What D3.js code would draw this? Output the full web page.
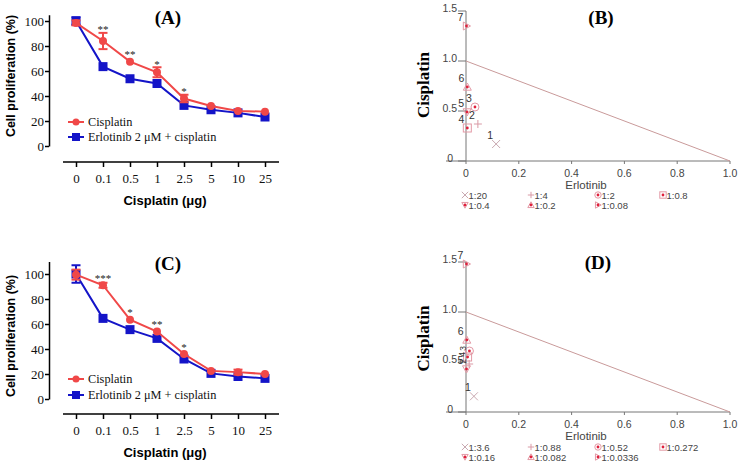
<!DOCTYPE html>
<html>
<head>
<meta charset="utf-8">
<script src="https://cdn.jsdelivr.net/npm/d3@7/dist/d3.min.js"></script>
<style>
  html, body { margin: 0; padding: 0; background: #fff; }
  svg { display: block; }
</style>
</head>
<body>
<svg id="chart" width="742" height="465"></svg>
<script>
// ---------------- DATA ----------------
const categories = ["0", "0.1", "0.5", "1", "2.5", "5", "10", "25"];
const yTicks = [0, 20, 40, 60, 80, 100];

// Panel A
const A_cisplatin = [98.5, 84, 67.5, 59, 38, 32, 28, 27.5];
const A_cisplatinErr = [2, 6.5, 1, 4, 3, 1, 1, 1];
const A_combo = [100, 63.5, 53.8, 50, 32.5, 29, 26.5, 23.2];
const A_comboErr = [3, 1, 1, 1, 1, 1, 1, 1];
const A_stars = ["", "**", "**", "*", "*", "", "", ""];

// Panel C
const C_cisplatin = [99.5, 91, 63.5, 54, 36, 22.5, 21.5, 20];
const C_cisplatinErr = [4, 2, 1, 1.5, 1, 1, 2, 1];
const C_combo = [100, 64.5, 55.5, 48.5, 32, 20.5, 18, 16.5];
const C_comboErr = [7, 1, 1, 1, 1, 1, 1, 1];
const C_stars = ["", "***", "*", "**", "*", "", "", ""];

const seriesNames = ["Cisplatin", "Erlotinib 2 \u03bcM + cisplatin"];

// Isobolograms
const isoXTicks = [0, 0.2, 0.4, 0.6, 0.8, 1.0];
const isoYTicks = [0, 0.5, 1.0, 1.5];
const pointIds = ["1", "2", "3", "4", "5", "6", "7"];
const markerTypes = ["x", "plus", "circle", "square", "triDown", "triUp", "triRight"];

const B_ratios = ["1:20", "1:4", "1:2", "1:0.8", "1:0.4", "1:0.2", "1:0.08"];
const B_erlotinib = [0.114, 0.045, 0.034, 0.005, 0.004, 0.005, 0.002];
const B_cisplatin = [0.17, 0.37, 0.54, 0.33, 0.49, 0.74, 1.35];

const D_ratios = ["1:3.6", "1:0.88", "1:0.52", "1:0.272", "1:0.16", "1:0.082", "1:0.0336"];
const D_erlotinib = [0.03, 0.012, 0.013, 0.006, 0.002, 0.003, 0.002];
const D_cisplatin = [0.157, 0.48, 0.61, 0.55, 0.43, 0.72, 1.48];

// ---------------- DRAWING ----------------
const svg = d3.select("#chart");
svg.append("rect").attr("width", 742).attr("height", 465).attr("fill", "#fff");

const RED = "#f04848";
const BLUE = "#1414c8";
const SERIF = "'Liberation Serif', 'Times New Roman', serif";
const SANS = "'Liberation Sans', Arial, sans-serif";

function linePanel(o) {
  const g = svg.append("g");
  const x = d3.scalePoint().domain(categories).range([76, 265]);
  const y = d3.scaleLinear().domain([0, o.yMax]).range([o.yZero, o.yZero - o.yMax * 1.25]);

  const ya = g.append("g").attr("transform", "translate(49,0)")
    .call(d3.axisLeft(y).tickValues(yTicks).tickSize(4).tickSizeOuter(0).tickPadding(1));
  ya.select(".domain").attr("stroke", "#000").attr("stroke-width", 1.5);
  ya.selectAll(".tick line").attr("stroke", "#000").attr("stroke-width", 1.5);
  ya.selectAll(".tick text").attr("font-family", SERIF).attr("font-size", 13).attr("fill", "#111");

  const xa = g.append("g").attr("transform", `translate(0,${o.xAxisY})`)
    .call(d3.axisBottom(x).tickSize(5).tickSizeOuter(0).tickPadding(7));
  xa.select(".domain").attr("d", `M63,0H279`).attr("stroke", "#000").attr("stroke-width", 1.5);
  xa.selectAll(".tick line").attr("stroke", "#000").attr("stroke-width", 1.5);
  xa.selectAll(".tick text").attr("font-family", SERIF).attr("font-size", 13).attr("fill", "#111");

  g.append("text").attr("x", 168).attr("y", o.titleY).attr("text-anchor", "middle")
    .attr("font-family", SERIF).attr("font-weight", "bold").attr("font-size", 19).text(o.title);
  g.append("text").attr("x", 165).attr("y", o.xTitleY).attr("text-anchor", "middle")
    .attr("font-family", SANS).attr("font-weight", "bold").attr("font-size", 13).text("Cisplatin (\u03bcg)");
  g.append("text").attr("transform", `translate(14.5,${o.yTitleCY}) rotate(-90)`).attr("text-anchor", "middle")
    .attr("font-family", SANS).attr("font-weight", "bold").attr("font-size", 12.5).text("Cell proliferation (%)");

  const line = d3.line().x((d, i) => x(categories[i])).y(d => y(d));

  function series(vals, errs, color, shape) {
    g.append("path").datum(vals).attr("d", line).attr("fill", "none")
      .attr("stroke", color).attr("stroke-width", 2);
    vals.forEach((v, i) => {
      const cx = x(categories[i]);
      const e = errs[i];
      if (e > 1.5) {
        g.append("line").attr("x1", cx).attr("x2", cx).attr("y1", y(v - e)).attr("y2", y(v + e))
          .attr("stroke", color).attr("stroke-width", 2);
        [v - e, v + e].forEach(t => g.append("line").attr("x1", cx - 4.5).attr("x2", cx + 4.5)
          .attr("y1", y(t)).attr("y2", y(t)).attr("stroke", color).attr("stroke-width", 2));
      }
      if (shape === "circle") {
        g.append("circle").attr("cx", cx).attr("cy", y(v)).attr("r", 4).attr("fill", color);
      } else {
        g.append("rect").attr("x", cx - 4.5).attr("y", y(v) - 4.5).attr("width", 9).attr("height", 9).attr("fill", color);
      }
    });
  }
  series(o.combo, o.comboErr, BLUE, "square");
  series(o.cis, o.cisErr, RED, "circle");

  o.stars.forEach((s, i) => {
    if (!s) return;
    const top = Math.min(y(o.cis[i] + (o.cisErr[i] > 1.5 ? o.cisErr[i] : 0)), y(o.cis[i]) - 4);
    g.append("text").attr("x", x(categories[i])).attr("y", top + 0.5).attr("text-anchor", "middle")
      .attr("font-family", SERIF).attr("font-size", 11).attr("fill", "#222").text(s);
  });

  const colors = [RED, BLUE];
  seriesNames.forEach((name, i) => {
    const ly = o.legendY[i];
    g.append("line").attr("x1", 68).attr("x2", 84).attr("y1", ly).attr("y2", ly)
      .attr("stroke", colors[i]).attr("stroke-width", 2);
    if (i === 0) g.append("circle").attr("cx", 76).attr("cy", ly).attr("r", 3.5).attr("fill", colors[i]);
    else g.append("rect").attr("x", 72).attr("y", ly - 4).attr("width", 8).attr("height", 8).attr("fill", colors[i]);
    g.append("text").attr("x", 88).attr("y", ly + 4.3).attr("font-family", SERIF).attr("font-size", 12.3)
      .attr("fill", "#111").text(name);
  });
}

linePanel({
  cis: A_cisplatin, cisErr: A_cisplatinErr, combo: A_combo, comboErr: A_comboErr, stars: A_stars,
  yMax: 105, yZero: 146, xAxisY: 162, title: "(A)", titleY: 23.5, xTitleY: 204.5, yTitleCY: 76,
  legendY: [122, 137]
});
linePanel({
  cis: C_cisplatin, cisErr: C_cisplatinErr, combo: C_combo, comboErr: C_comboErr, stars: C_stars,
  yMax: 110, yZero: 399, xAxisY: 414, title: "(C)", titleY: 270, xTitleY: 456.5, yTitleCY: 336,
  legendY: [379, 395]
});

// ---------- isobologram ----------
const PINK = "#e39aa6";
const DOT = "#e0203c";

function marker(g, type, cx, cy, s) {
  const apply = sel => sel.attr("stroke", PINK).attr("stroke-width", 1).attr("fill", "none");
  if (type === "x") {
    g.append("path").attr("d", `M${cx - s},${cy - s}L${cx + s},${cy + s}M${cx - s},${cy + s}L${cx + s},${cy - s}`)
      .attr("stroke", "#c9a9b1").attr("stroke-width", 1).attr("fill", "none");
    return;
  }
  if (type === "plus") {
    g.append("path").attr("d", `M${cx - s},${cy}L${cx + s},${cy}M${cx},${cy - s}L${cx},${cy + s}`)
      .attr("stroke", "#d99aa6").attr("stroke-width", 1).attr("fill", "none");
    return;
  }
  if (type === "circle") apply(g.append("circle").attr("cx", cx).attr("cy", cy).attr("r", s));
  if (type === "square") apply(g.append("rect").attr("x", cx - s).attr("y", cy - s).attr("width", 2 * s).attr("height", 2 * s));
  if (type === "triDown") apply(g.append("path").attr("d", `M${cx - s},${cy - s * 0.8}L${cx + s},${cy - s * 0.8}L${cx},${cy + s}Z`));
  if (type === "triUp") apply(g.append("path").attr("d", `M${cx - s},${cy + s * 0.8}L${cx + s},${cy + s * 0.8}L${cx},${cy - s}Z`));
  if (type === "triRight") apply(g.append("path").attr("d", `M${cx - s * 0.8},${cy - s}L${cx - s * 0.8},${cy + s}L${cx + s},${cy}Z`));
  g.append("circle").attr("cx", cx).attr("cy", cy).attr("r", 1.4).attr("fill", DOT);
}

function isoPanel(o) {
  const g = svg.append("g");
  const x = d3.scaleLinear().domain([0, 1]).range([466, 730]);
  const y = d3.scaleLinear().domain([0, 1.5]).range([o.yZero, o.yZero - 150]);
  const AX = "#777";

  g.append("line").attr("x1", 446).attr("x2", x(1)).attr("y1", y(0)).attr("y2", y(0)).attr("stroke", AX).attr("stroke-width", 1);
  g.append("line").attr("x1", x(0)).attr("x2", x(0)).attr("y1", y(0)).attr("y2", y(1.5)).attr("stroke", AX).attr("stroke-width", 1);
  isoYTicks.forEach(t => {
    g.append("line").attr("x1", 458).attr("x2", x(0)).attr("y1", y(t)).attr("y2", y(t)).attr("stroke", AX);
    g.append("text").attr("x", t === 0 ? 453 : 457).attr("y", y(t) + 0.5).attr("text-anchor", "end")
      .attr("font-family", SANS).attr("font-size", 10.5).attr("fill", "#444")
      .text(t === 0 ? "0" : d3.format(".1f")(t));
  });
  isoXTicks.forEach(t => {
    g.append("line").attr("x1", x(t)).attr("x2", x(t)).attr("y1", y(0)).attr("y2", y(0) + 3).attr("stroke", AX);
    g.append("text").attr("x", x(t)).attr("y", y(0) + 15.5).attr("text-anchor", "middle")
      .attr("font-family", SANS).attr("font-size", 10.5).attr("fill", "#444")
      .text(t === 0 ? "0" : d3.format(".1f")(t));
  });

  g.append("line").attr("x1", x(0)).attr("y1", y(1)).attr("x2", x(1)).attr("y2", y(0))
    .attr("stroke", "#c99a9a").attr("stroke-width", 1);

  g.append("text").attr("x", o.titleX).attr("y", o.titleY).attr("text-anchor", "middle")
    .attr("font-family", SERIF).attr("font-weight", "bold").attr("font-size", 19).text(o.title);
  g.append("text").attr("x", 586).attr("y", y(0) + 27.5).attr("text-anchor", "middle")
    .attr("font-family", SANS).attr("font-size", 11.5).attr("fill", "#444").text("Erlotinib");
  g.append("text").attr("transform", `translate(429,${o.yTitleCY}) rotate(-90)`).attr("text-anchor", "middle")
    .attr("font-family", SERIF).attr("font-weight", "bold").attr("font-size", 17).text("Cisplatin");

  o.erl.forEach((e, i) => {
    const cx = x(e), cy = y(o.cis[i]);
    marker(g, markerTypes[i], cx, cy, 4);
  });
  o.erl.forEach((e, i) => {
    const cx = x(e), cy = y(o.cis[i]);
    const lx = cx - 6, ly = cy - 5.5;
    const t = g.append("text").attr("text-anchor", "middle")
      .attr("font-family", SANS).attr("font-size", 10.5).attr("fill", "#333").text(pointIds[i]);
    if (o.rotatedLabels && o.rotatedLabels.includes(i)) {
      t.attr("font-size", 8.5).attr("transform", `translate(${lx + 3},${ly + 3}) rotate(-90)`);
    } else {
      t.attr("x", lx).attr("y", ly);
    }
  });

  const colX = [465, 531, 598, 663];
  o.ratios.forEach((r, i) => {
    const row = i < 4 ? 0 : 1;
    const col = i < 4 ? i : i - 4;
    const lx = colX[col], ly = o.legendY[row];
    marker(g, markerTypes[i], lx, ly, 3.2);
    g.append("text").attr("x", lx + 3.5).attr("y", ly + 3.5).attr("font-family", SANS)
      .attr("font-size", 9.5).attr("fill", "#444").text(r);
  });
}

isoPanel({
  erl: B_erlotinib, cis: B_cisplatin, ratios: B_ratios, yZero: 161,
  title: "(B)", titleX: 601, titleY: 23.5, yTitleCY: 85, legendY: [195, 205]
});
isoPanel({
  erl: D_erlotinib, cis: D_cisplatin, ratios: D_ratios, yZero: 412,
  title: "(D)", titleX: 598, titleY: 268.5, yTitleCY: 338.5, legendY: [447, 457],
  rotatedLabels: [1, 2, 3]
});
</script>
</body>
</html>
